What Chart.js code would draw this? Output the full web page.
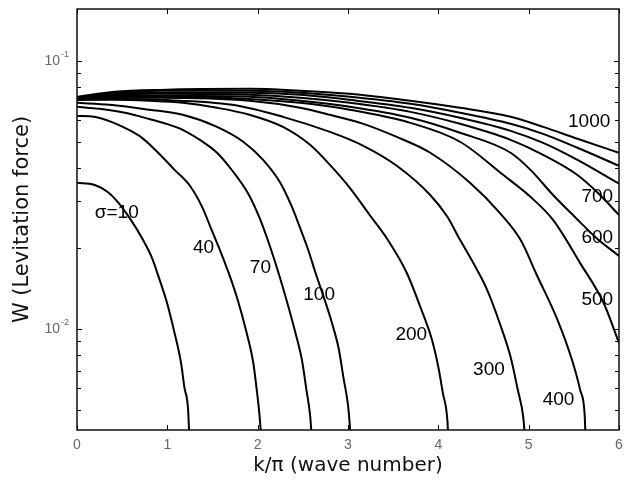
<!DOCTYPE html>
<html>
<head>
<meta charset="utf-8">
<script src="https://cdn.jsdelivr.net/npm/chart.js@4.4.1/dist/chart.umd.min.js"></script>
<style>
  html, body { margin: 0; padding: 0; background: #fff; }
  canvas { display: block; }
</style>
</head>
<body>
<canvas id="chart" width="630" height="485"></canvas>
<script>
/* ==================== Data ==================== */
// x = k/pi, y = W ; one pair of arrays per sigma curve
const k10 = [0, 0.19, 0.34, 0.45, 0.58, 0.73, 0.83, 0.91, 1.00, 1.08, 1.15, 1.19, 1.23, 1.245];
const w10 = [0.0351, 0.0345, 0.0324, 0.0298, 0.0260, 0.0215, 0.0184, 0.0154, 0.0124, 0.00966, 0.00753, 0.00603, 0.00499, 0.0038];

const k40 = [0, 0.19, 0.38, 0.53, 0.72, 0.89, 1.08, 1.25, 1.39, 1.49, 1.59, 1.69, 1.78, 1.87, 1.95, 1.99, 2.02, 2.04];
const w40 = [0.0623, 0.0618, 0.0592, 0.0562, 0.0516, 0.0457, 0.0392, 0.0342, 0.0283, 0.0234, 0.0194, 0.0158, 0.0128, 0.00991, 0.00753, 0.00592, 0.00478, 0.0039];

const k70 = [0, 0.25, 0.53, 0.80, 0.99, 1.17, 1.36, 1.55, 1.72, 1.89, 2.02, 2.13, 2.23, 2.32, 2.41, 2.49, 2.54, 2.58, 2.60];
const w70 = [0.0674, 0.0662, 0.0640, 0.0607, 0.0582, 0.0553, 0.0507, 0.0454, 0.0389, 0.0322, 0.0260, 0.0206, 0.0162, 0.0128, 0.00991, 0.00766, 0.00592, 0.00478, 0.0039];

const k100 = [0, 0.36, 0.80, 1.17, 1.55, 1.84, 2.06, 2.25, 2.37, 2.47, 2.56, 2.64, 2.73, 2.82, 2.90, 2.95, 3.00, 3.02, 3.03];
const w100 = [0.0697, 0.0685, 0.0657, 0.0629, 0.0567, 0.0499, 0.0427, 0.0351, 0.0290, 0.0238, 0.0197, 0.0162, 0.0132, 0.0106, 0.00835, 0.00657, 0.00520, 0.00438, 0.0039];

const k200 = [0, 0.42, 0.80, 1.17, 1.55, 1.91, 2.28, 2.58, 2.80, 3.02, 3.24, 3.44, 3.65, 3.80, 3.93, 4.00, 4.05, 4.10, 4.11];
const w200 = [0.0715, 0.0715, 0.0709, 0.0697, 0.0668, 0.0629, 0.0567, 0.0486, 0.0409, 0.0336, 0.0266, 0.0215, 0.0162, 0.0121, 0.00910, 0.00721, 0.00577, 0.00457, 0.0039];

const k300 = [0, 0.42, 0.92, 1.72, 2.28, 2.80, 3.17, 3.54, 3.91, 4.10, 4.24, 4.38, 4.54, 4.68, 4.80, 4.88, 4.94, 4.96];
const w300 = [0.0715, 0.0721, 0.0715, 0.0685, 0.0618, 0.0543, 0.0482, 0.0406, 0.0316, 0.0262, 0.0215, 0.0178, 0.0140, 0.0105, 0.00786, 0.00592, 0.00469, 0.0039];

const k400 = [0, 0.42, 0.92, 1.91, 2.47, 2.80, 3.17, 3.54, 3.91, 4.35, 4.68, 4.91, 5.09, 5.32, 5.48, 5.57, 5.62, 5.63];
const w400 = [0.0715, 0.0728, 0.0728, 0.0709, 0.0668, 0.0629, 0.0582, 0.0520, 0.0454, 0.0351, 0.0271, 0.0215, 0.0159, 0.0108, 0.00766, 0.00592, 0.00478, 0.0039];

const k500 = [0, 0.42, 0.92, 1.91, 2.47, 3.02, 3.69, 4.24, 4.72, 5.02, 5.27, 5.57, 5.83, 6.0];
const w500 = [0.0721, 0.0734, 0.0734, 0.0721, 0.0697, 0.0657, 0.0587, 0.0499, 0.0375, 0.0311, 0.0255, 0.0176, 0.0125, 0.00887];

const k600 = [0, 0.42, 0.92, 1.91, 2.47, 3.02, 3.69, 4.24, 4.80, 5.02, 5.27, 5.52, 5.74, 6.0];
const w600 = [0.0721, 0.0740, 0.0740, 0.0734, 0.0709, 0.0674, 0.0613, 0.0539, 0.0454, 0.0392, 0.0316, 0.0260, 0.0220, 0.0187];

const k700 = [0, 0.42, 0.92, 1.91, 2.47, 3.02, 3.69, 4.24, 4.80, 5.16, 5.54, 5.79, 6.0];
const w700 = [0.0721, 0.0747, 0.0753, 0.0747, 0.0728, 0.0697, 0.0645, 0.0582, 0.0507, 0.0446, 0.0375, 0.0316, 0.0266];

const k800 = [0, 0.42, 0.92, 1.91, 2.47, 3.02, 3.69, 4.24, 4.80, 5.16, 5.54, 6.0];
const w800 = [0.0728, 0.0753, 0.0760, 0.0760, 0.0747, 0.0715, 0.0668, 0.0613, 0.0548, 0.0494, 0.0427, 0.0348];

const k900 = [0, 0.42, 0.92, 1.91, 2.47, 3.02, 3.69, 4.24, 4.80, 5.16, 5.54, 6.0];
const w900 = [0.0728, 0.0760, 0.0773, 0.0773, 0.0760, 0.0734, 0.0691, 0.0640, 0.0582, 0.0534, 0.0474, 0.0406];

const k1000 = [0, 0.42, 0.92, 1.91, 2.47, 3.02, 3.69, 4.24, 4.80, 5.16, 5.54, 6.0];
const w1000 = [0.0734, 0.0766, 0.0779, 0.0786, 0.0773, 0.0753, 0.0709, 0.0668, 0.0618, 0.0567, 0.0512, 0.0454];

// curve annotations
const labelText = ['\u03c3=10', '40', '70', '100', '200', '300', '400', '500', '600', '700', '1000'];
const labelK    = [0.44, 1.40, 2.03, 2.68, 3.70, 4.56, 5.33, 5.76, 5.76, 5.76, 5.67];
const labelW    = [0.0271, 0.0201, 0.0169, 0.0134, 0.0095, 0.00703, 0.00543, 0.0128, 0.0219, 0.0311, 0.0592];

// axes
const xTicks = [0, 1, 2, 3, 4, 5, 6];
const yMajor = [0.01, 0.1];
const yMajorExp = ['-2', '-1'];
const yMinor = [0.005, 0.006, 0.007, 0.008, 0.009, 0.02, 0.03, 0.04, 0.05, 0.06, 0.07, 0.08, 0.09];

/* ==================== Datasets ==================== */
const curves = [
    [k10, w10], [k40, w40], [k70, w70], [k100, w100], [k200, w200], [k300, w300],
    [k400, w400], [k500, w500], [k600, w600], [k700, w700], [k800, w800], [k900, w900], [k1000, w1000]
];

const datasets = curves.map(([ks, ws]) => ({
    data: ks.map((k, i) => ({ x: k, y: ws[i] })),
    borderColor: '#000',
    borderWidth: 2,
    pointRadius: 0,
    cubicInterpolationMode: 'monotone',
    fill: false
}));

/* ==================== Frame, ticks and labels ==================== */
const framePlugin = {
    id: 'frame',
    afterDatasetsDraw(chart) {
        const ctx = chart.ctx;
        const a = chart.chartArea;
        const xs = chart.scales.x;
        const ys = chart.scales.y;
        ctx.save();

        // inward tick marks on all four sides
        ctx.strokeStyle = '#000';
        ctx.lineWidth = 1;
        ctx.beginPath();
        xTicks.forEach(v => {
            const px = Math.round(xs.getPixelForValue(v)) + 0.5;
            ctx.moveTo(px, a.bottom); ctx.lineTo(px, a.bottom - 5);
            ctx.moveTo(px, a.top); ctx.lineTo(px, a.top + 5);
        });
        yMajor.concat(yMinor).forEach(v => {
            const len = yMajor.includes(v) ? 5 : 4;
            const py = Math.round(ys.getPixelForValue(v)) + 0.5;
            ctx.moveTo(a.left, py); ctx.lineTo(a.left + len, py);
            ctx.moveTo(a.right, py); ctx.lineTo(a.right - len, py);
        });
        ctx.stroke();

        // box
        ctx.lineWidth = 1.5;
        ctx.strokeStyle = '#111';
        ctx.strokeRect(a.left, a.top, a.right - a.left, a.bottom - a.top);

        // y tick labels with superscript exponent
        ctx.fillStyle = '#666';
        ctx.textBaseline = 'middle';
        yMajor.forEach((v, i) => {
            const py = ys.getPixelForValue(v);
            ctx.font = '14px "Liberation Sans", Arial, sans-serif';
            ctx.textAlign = 'right';
            ctx.fillText('10', a.left - 17, py);
            ctx.font = '9px "Liberation Sans", Arial, sans-serif';
            ctx.textAlign = 'left';
            ctx.fillText(yMajorExp[i], a.left - 16, py - 6);
        });

        // curve labels
        ctx.fillStyle = '#000';
        ctx.font = '19px "Liberation Sans", Arial, sans-serif';
        ctx.textAlign = 'center';
        ctx.textBaseline = 'middle';
        labelText.forEach((t, i) => {
            ctx.fillText(t, xs.getPixelForValue(labelK[i]), ys.getPixelForValue(labelW[i]));
        });

        ctx.restore();
    }
};

/* ==================== Chart ==================== */
new Chart(document.getElementById('chart'), {
    type: 'line',
    data: { datasets },
    options: {
        responsive: false,
        animation: false,
        devicePixelRatio: 1,
        layout: { padding: { top: 9, right: 11, left: 0, bottom: 0 } },
        plugins: {
            legend: { display: false },
            tooltip: { enabled: false }
        },
        scales: {
            x: {
                type: 'linear',
                min: 0,
                max: 6,
                grid: { display: false, drawTicks: false },
                border: { display: false },
                afterBuildTicks: s => { s.ticks = xTicks.map(v => ({ value: v })); },
                afterFit: s => { s.height = 55; },
                ticks: {
                    color: '#666',
                    padding: 7,
                    font: { family: '"Liberation Sans", Arial, sans-serif', size: 14 }
                },
                title: {
                    display: true,
                    text: 'k/\u03c0 (wave number)',
                    color: '#111',
                    font: { family: '"DejaVu Sans", sans-serif', size: 20 },
                    padding: { top: 0, bottom: 7 }
                }
            },
            y: {
                type: 'logarithmic',
                min: 0.0042,
                max: 0.156,
                grid: { display: false, drawTicks: false },
                border: { display: false },
                ticks: { display: false },
                afterFit: s => { s.width = 77; },
                title: {
                    display: true,
                    text: 'W (Levitation force)',
                    color: '#111',
                    font: { family: '"DejaVu Sans", sans-serif', size: 21 },
                    padding: { top: 10, bottom: 0 }
                }
            }
        }
    },
    plugins: [framePlugin]
});
</script>
</body>
</html>
